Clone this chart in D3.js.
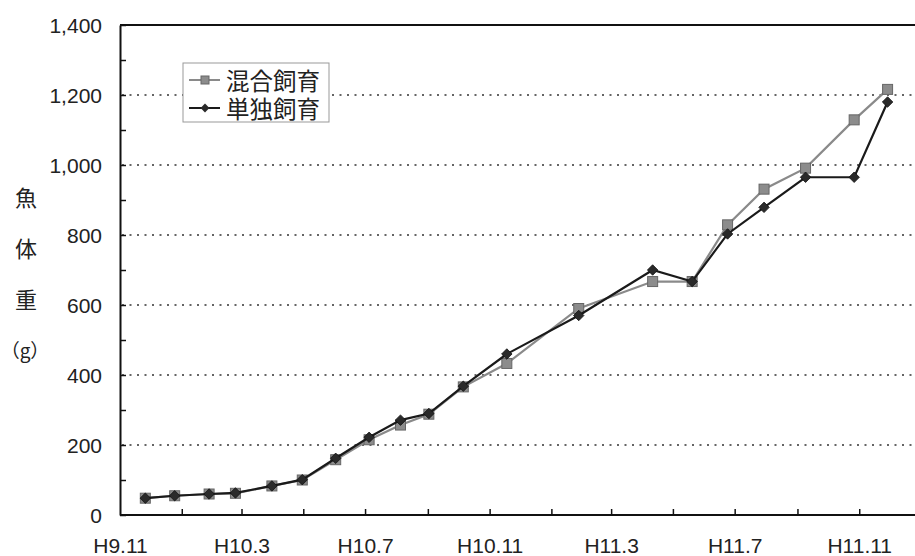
<!DOCTYPE html>
<html>
<head>
<meta charset="utf-8">
<script src="https://cdn.jsdelivr.net/npm/d3@7"></script>
<style>
  html, body { margin: 0; padding: 0; background: #fff; }
  svg { display: block; }
  text { font-family: "Liberation Sans", Arial, sans-serif; fill: #222; }
  .jp { font-family: "Noto Sans CJK JP", sans-serif; }
</style>
</head>
<body>
<div id="chart"></div>
<script>
// ── Data ──
const dates = [
  '1997-11-26', '1997-12-25', '1998-01-28', '1998-02-23', '1998-03-31',
  '1998-04-30', '1998-06-02', '1998-07-05', '1998-08-05', '1998-09-02',
  '1998-10-06', '1998-11-18', '1999-01-28', '1999-04-11', '1999-05-20',
  '1999-06-24', '1999-07-30', '1999-09-09', '1999-10-27', '1999-11-29'
];
const mixed = [48, 55, 60, 62, 83, 100, 158, 215, 257, 288, 366, 433, 590, 667, 667, 829, 931, 991, 1129, 1216];
const single = [48, 55, 60, 63, 83, 101, 162, 222, 271, 290, 368, 460, 570, 700, 667, 803, 879, 965, 965, 1180];
const seriesNames = ['混合飼育', '単独飼育'];
const yTicks = [0, 200, 400, 600, 800, 1000, 1200, 1400];
const yTitle = ['魚', '体', '重', '（g）'];

const W = 915, H = 556;
const mLeft = 120, mRight = 921, mTop = 25, mBottom = 515;

const parse = d3.timeParse('%Y-%m-%d');
const x = d3.scaleTime()
  .domain([new Date(1997, 10, 1), new Date(2000, 0, 1)])
  .range([mLeft, mRight]);
const y = d3.scaleLinear().domain([0, 1400]).range([mBottom, mTop]);

const svg = d3.select('#chart').append('svg')
  .attr('width', W).attr('height', H);

// dotted grid
svg.append('g').selectAll('line')
  .data(yTicks.filter(v => v > 0 && v < 1400))
  .join('line')
  .attr('x1', mLeft + 2).attr('x2', W)
  .attr('y1', d => y(d)).attr('y2', d => y(d))
  .attr('stroke', '#333').attr('stroke-width', 1.5)
  .attr('stroke-dasharray', '2,5.5');

// top frame line
svg.append('line')
  .attr('x1', mLeft).attr('x2', W).attr('y1', mTop).attr('y2', mTop)
  .attr('stroke', '#111').attr('stroke-width', 2);

// y axis
const yAxis = svg.append('g')
  .attr('transform', `translate(${mLeft},0)`)
  .call(d3.axisLeft(y).tickValues(d3.range(0, 1401, 100)).tickSize(-6).tickSizeOuter(0)
    .tickFormat(d => d % 200 === 0 ? d3.format(',')(d) : ''));
yAxis.select('.domain').attr('stroke', '#111').attr('stroke-width', 2);
yAxis.selectAll('.tick line').attr('stroke', '#111').attr('stroke-width', 1.5);
yAxis.selectAll('.tick text')
  .attr('x', -18).attr('dy', '0.36em')
  .attr('font-size', 21).style('font-family', '"Liberation Sans", Arial, sans-serif').attr('fill', '#262626');

// x axis
const monthTicks = d3.timeMonth.every(2).range(new Date(1997, 10, 1), new Date(2000, 0, 2));
const xAxis = svg.append('g')
  .attr('transform', `translate(0,${mBottom})`)
  .call(d3.axisBottom(x).tickValues(monthTicks).tickSize(-6).tickSizeOuter(0)
    .tickFormat(d => (d.getMonth() % 4 === 2) ? `H${d.getFullYear() - 1988}.${d.getMonth() + 1}` : ''));
xAxis.select('.domain').attr('stroke', '#111').attr('stroke-width', 2)
  .attr('d', `M${mLeft},0H${W}`);
xAxis.selectAll('.tick line').attr('stroke', '#111').attr('stroke-width', 1.5)
  .attr('display', d => +d === +new Date(1997, 10, 1) ? 'none' : null);
xAxis.selectAll('.tick text')
  .attr('y', 38).attr('dy', 0)
  .attr('font-size', 21).style('font-family', '"Liberation Sans", Arial, sans-serif').attr('fill', '#262626');

// y title (stacked)
svg.append('g').selectAll('text')
  .data(yTitle)
  .join('text')
  .attr('class', 'jp')
  .attr('x', d => d.length > 1 ? 25 : 26)
  .attr('y', (d, i) => 196 + i * 51)
  .attr('dominant-baseline', 'central')
  .attr('text-anchor', 'middle')
  .attr('font-size', d => d.length > 1 ? 19 : 22)
  .text(d => d);

// lines
const line = d3.line().x(d => x(d.date)).y(d => y(d.v));
const mixedPts = dates.map((d, i) => ({ date: parse(d), v: mixed[i] }));
const singlePts = dates.map((d, i) => ({ date: parse(d), v: single[i] }));

svg.append('path').datum(mixedPts).attr('d', line)
  .attr('fill', 'none').attr('stroke', '#8a8a8a').attr('stroke-width', 2.2);
svg.append('g').selectAll('rect').data(mixedPts).join('rect')
  .attr('x', d => x(d.date) - 5).attr('y', d => y(d.v) - 5)
  .attr('width', 10).attr('height', 10)
  .attr('fill', '#8c8c8c').attr('stroke', '#666').attr('stroke-width', 1);

svg.append('path').datum(singlePts).attr('d', line)
  .attr('fill', 'none').attr('stroke', '#1a1a1a').attr('stroke-width', 2.2);
const diamond = d3.symbol().type(d3.symbolDiamond2).size(70);
svg.append('g').selectAll('path').data(singlePts).join('path')
  .attr('transform', d => `translate(${x(d.date)},${y(d.v)})`)
  .attr('d', diamond)
  .attr('fill', '#2a2a2a').attr('stroke', '#111').attr('stroke-width', 0.8);

// legend
const lg = svg.append('g').attr('transform', 'translate(183,63)');
lg.append('rect').attr('width', 146).attr('height', 59)
  .attr('fill', '#fff').attr('stroke', '#999').attr('stroke-width', 1);
seriesNames.forEach((name, i) => {
  const row = lg.append('g').attr('transform', `translate(0,${17 + i * 28})`);
  row.append('line').attr('x1', 6).attr('x2', 37).attr('y1', 0).attr('y2', 0)
    .attr('stroke', i === 0 ? '#8a8a8a' : '#1a1a1a').attr('stroke-width', 2);
  if (i === 0) {
    row.append('rect').attr('x', 18).attr('y', -4).attr('width', 8).attr('height', 8)
      .attr('fill', '#8c8c8c').attr('stroke', '#666');
  } else {
    row.append('path').attr('transform', 'translate(22,0)')
      .attr('d', d3.symbol().type(d3.symbolDiamond2).size(50))
      .attr('fill', '#2a2a2a');
  }
  row.append('text').attr('class', 'jp')
    .attr('x', 43).attr('y', 0).attr('dominant-baseline', 'central')
    .attr('font-size', 23.5).text(name);
});
</script>
</body>
</html>
